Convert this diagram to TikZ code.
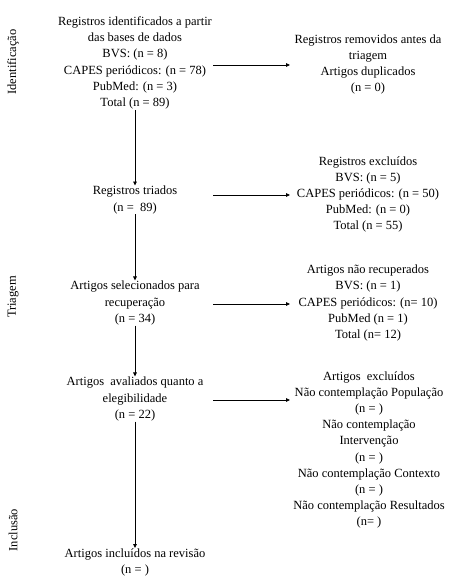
\documentclass[tikz,border=0pt]{standalone}
\usepackage{fontspec}
\setmainfont{Liberation Serif}
\newfontfamily\tnr{Liberation Serif}
\usetikzlibrary{arrows.meta}
\begin{document}
\begin{tikzpicture}[x=1pt,y=1pt,
  txt/.style={align=center,inner sep=0.5pt,font=\tnr\fontsize{12.5}{16.2}\selectfont,text=black},
  side/.style={rotate=90,inner sep=0pt,font=\tnr\fontsize{12.5}{15}\selectfont},
  arr/.style={draw=black,line width=0.8pt,-{Triangle[length=4pt,width=3.6pt]}}]
\useasboundingbox (0,0) rectangle (474,-586);
% left column
\node[txt] (b1) at (135,-63) {Registros identificados a partir\\das bases de dados\\BVS: (n = 8)\\CAPES periódicos: (n = 78)\\PubMed: (n = 3)\\Total (n = 89)};
\node[txt] (b2) at (135,-200) {Registros triados\\(n = \ 89)};
\node[txt] (b3) at (135,-303) {Artigos selecionados para\\recuperação\\(n = 34)};
\node[txt] (b4) at (135,-399) {Artigos \ avaliados quanto a\\elegibilidade\\(n = 22)};
\node[txt] (b5) at (135,-562.5) {Artigos incluídos na revisão\\(n = )};
% right column
\node[txt] (r1) at (368,-64.5) {Registros removidos antes da\\triagem\\Artigos duplicados\\(n = 0)};
\node[txt] (r2) at (368,-194.5) {Registros excluídos\\BVS: (n = 5)\\CAPES periódicos: (n = 50)\\PubMed: (n = 0)\\Total (n = 55)};
\node[txt] (r3) at (368,-303) {Artigos não recuperados\\BVS: (n = 1)\\CAPES periódicos: (n= 10)\\PubMed (n = 1)\\Total (n= 12)};
\node[txt] (r4) at (369,-450) {Artigos \ excluídos\\Não contemplação População\\(n = )\\Não contemplação\\Intervenção\\(n = )\\Não contemplação Contexto\\(n = )\\Não contemplação Resultados\\(n= )};
% side labels
\node[side] (s1) at (13,-62) {Identificação};
\node[side] (s2) at (13,-297) {Triagem};
\node[side] (s3) at (13,-530) {Inclusão};
% vertical arrows
\draw[arr] (b1.south) -- (b2.north);
\draw[arr] (b2.south) -- (b3.north);
\draw[arr] (b3.south) -- (b4.north);
\draw[arr] (b4.south) -- (b5.north);
% horizontal arrows
\coordinate (h1a) at (213,-65);  \coordinate (h1b) at (290,-65);
\coordinate (h2a) at (213,-195); \coordinate (h2b) at (290,-195);
\coordinate (h3a) at (213,-304); \coordinate (h3b) at (290,-304);
\coordinate (h4a) at (213,-400); \coordinate (h4b) at (290,-400);
\draw[arr] (h1a) -- (h1b);
\draw[arr] (h2a) -- (h2b);
\draw[arr] (h3a) -- (h3b);
\draw[arr] (h4a) -- (h4b);
\end{tikzpicture}
\end{document}
